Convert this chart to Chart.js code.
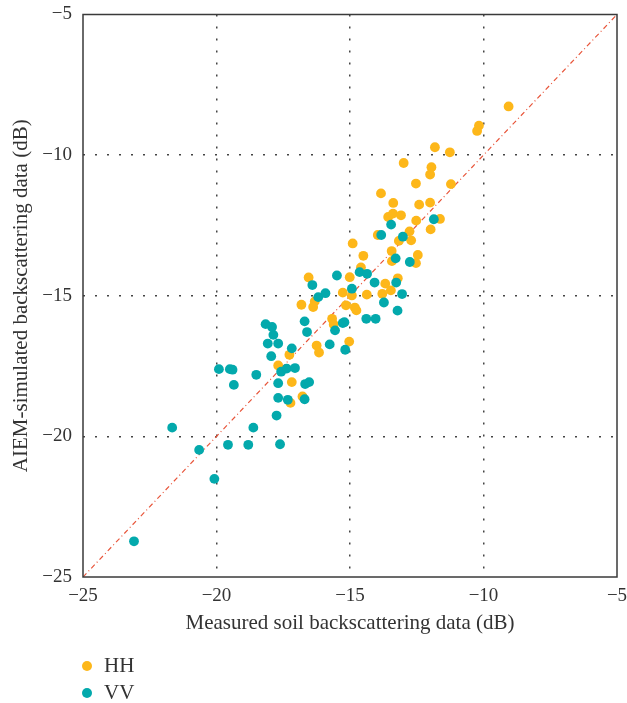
<!DOCTYPE html>
<html>
<head>
<meta charset="utf-8">
<script src="https://cdn.jsdelivr.net/npm/chart.js@4.4.1/dist/chart.umd.min.js"></script>
<style>
  html, body { margin: 0; padding: 0; background: #fff; }
  #wrap { position: relative; width: 627px; height: 703px; }
  #legend { position: absolute; left: 80px; top: 652px; font-family: "Liberation Serif", serif; font-size: 21px; color: #333; }
  #legend div { display: flex; align-items: center; height: 27px; }
  #legend span.dot { display: inline-block; width: 10px; height: 10px; border-radius: 50%; margin-right: 12px; margin-left: 2px; }
</style>
</head>
<body>
<div id="wrap">
  <canvas id="chart" width="627" height="703"></canvas>
  <div id="legend"></div>
</div>
<script>
// HH: measured (x) vs AIEM-simulated (y), dB
const hhPoints = [
  [-9.06, -8.27], [-10.17, -8.95], [-10.24, -9.14], [-11.82, -9.72], [-11.26, -9.90],
  [-12.99, -10.28], [-11.95, -10.43], [-12.00, -10.69], [-12.53, -11.01], [-11.22, -11.03],
  [-13.84, -11.36], [-13.38, -11.70], [-12.00, -11.69], [-12.41, -11.76], [-13.57, -12.20],
  [-13.39, -12.08], [-13.09, -12.14], [-12.52, -12.33], [-11.63, -12.27], [-11.98, -12.64],
  [-13.96, -12.84], [-12.77, -12.71], [-12.71, -13.03], [-13.17, -13.05], [-14.90, -13.14],
  [-13.44, -13.41], [-14.50, -13.58], [-12.46, -13.55], [-13.43, -13.77], [-12.53, -13.84],
  [-14.59, -13.99], [-15.01, -14.34], [-13.21, -14.38], [-13.68, -14.57], [-16.55, -14.35],
  [-15.27, -14.89], [-14.93, -14.99], [-14.37, -14.96], [-13.79, -14.93], [-13.47, -14.81],
  [-16.32, -15.20], [-16.82, -15.32], [-16.38, -15.40], [-15.15, -15.34], [-14.82, -15.42],
  [-14.76, -15.52], [-15.67, -15.82], [-15.61, -16.02], [-16.25, -16.77], [-16.16, -17.02],
  [-15.03, -16.63], [-17.27, -17.10], [-17.69, -17.48], [-17.18, -18.07], [-17.23, -18.81],
  [-16.78, -18.58]
];

const vvPoints = [
  [-11.86, -12.28], [-13.46, -12.47], [-13.83, -12.84], [-13.02, -12.90], [-13.29, -13.67],
  [-12.76, -13.80], [-14.64, -14.16], [-14.36, -14.22], [-15.49, -14.28], [-16.41, -14.62],
  [-14.08, -14.53], [-13.27, -14.53], [-15.92, -14.91], [-16.19, -15.05], [-14.93, -14.75],
  [-13.05, -14.94], [-13.73, -15.24], [-14.39, -15.82], [-14.04, -15.82], [-13.22, -15.53],
  [-16.70, -15.91], [-16.61, -16.29], [-15.27, -15.97], [-15.21, -15.94], [-15.56, -16.23],
  [-15.76, -16.73], [-15.18, -16.92], [-17.18, -16.87], [-17.69, -16.70], [-18.08, -16.70],
  [-17.87, -16.39], [-17.92, -16.11], [-18.16, -16.01], [-17.95, -17.15], [-18.51, -17.81],
  [-17.58, -17.70], [-17.37, -17.59], [-17.06, -17.57], [-17.69, -18.11], [-16.68, -18.14],
  [-16.53, -18.07], [-17.69, -18.63], [-17.33, -18.70], [-16.70, -18.68], [-17.75, -19.26],
  [-19.91, -17.61], [-19.50, -17.61], [-19.40, -17.63], [-19.35, -18.17], [-18.62, -19.69],
  [-17.62, -20.28], [-18.81, -20.30], [-19.57, -20.30], [-21.66, -19.69], [-20.65, -20.48],
  [-20.08, -21.51], [-23.09, -23.73]
];

// 1:1 reference line
const lineEnds = [-25, -5];

const axisMin = -25;
const axisMax = -5;
const axisStep = 5;

const seriesNames = ['HH', 'VV'];
const seriesColors = ['#FDB71A', '#03A9AC'];

const FONT = '"Liberation Serif", "Times New Roman", serif';
const TEXT = '#333333';

const toXY = arr => arr.map(p => ({ x: p[0], y: p[1] }));
const fmt = v => (v < 0 ? '\u2212' + Math.abs(v) : String(v));

// frame around the plot area
const framePlugin = {
  id: 'frame',
  afterDraw(chart) {
    const { ctx, chartArea: a } = chart;
    ctx.save();
    ctx.strokeStyle = '#3a3a3a';
    ctx.lineWidth = 1.5;
    ctx.strokeRect(a.left, a.top, a.right - a.left, a.bottom - a.top);
    ctx.restore();
  }
};

const gridColor = ctx => {
  const v = ctx.tick && ctx.tick.value;
  return (v === axisMin || v === axisMax) ? 'rgba(0,0,0,0)' : '#444444';
};

const chart = new Chart(document.getElementById('chart'), {
  type: 'scatter',
  data: {
    datasets: [
      {
        label: seriesNames[1],
        data: toXY(vvPoints),
        backgroundColor: seriesColors[1],
        borderWidth: 0,
        pointRadius: 4.9,
        order: 1
      },
      {
        label: seriesNames[0],
        data: toXY(hhPoints),
        backgroundColor: seriesColors[0],
        borderWidth: 0,
        pointRadius: 4.9,
        order: 2
      },
      {
        type: 'line',
        label: '1:1',
        data: lineEnds.map(v => ({ x: v, y: v })),
        borderColor: '#E8553A',
        borderWidth: 1.2,
        borderDash: [5, 3, 1, 3],
        pointRadius: 0,
        fill: false,
        order: 3
      }
    ]
  },
  options: {
    responsive: false,
    animation: false,
    layout: { padding: { top: 14.5, right: 10, bottom: 0, left: 0 } },
    plugins: {
      legend: { display: false },
      tooltip: { enabled: false }
    },
    scales: {
      x: {
        type: 'linear',
        min: axisMin,
        max: axisMax,
        afterFit: s => { s.height = 126; s.paddingLeft = 0; s.paddingRight = 0; },
        ticks: {
          stepSize: axisStep,
          padding: 8,
          color: TEXT,
          font: { family: FONT, size: 19 },
          callback: fmt
        },
        grid: { color: gridColor, lineWidth: 1.5, drawTicks: false },
        border: { display: false, dash: [2, 10] },
        title: {
          display: true,
          text: 'Measured soil backscattering data (dB)',
          color: TEXT,
          font: { family: FONT, size: 21 },
          padding: { top: 0, bottom: 67 }
        }
      },
      y: {
        type: 'linear',
        min: axisMin,
        max: axisMax,
        afterFit: s => { s.width = 83; s.paddingTop = 0; s.paddingBottom = 0; },
        ticks: {
          stepSize: axisStep,
          padding: 11,
          color: TEXT,
          font: { family: FONT, size: 19 },
          callback: fmt
        },
        grid: { color: gridColor, lineWidth: 1.5, drawTicks: false },
        border: { display: false, dash: [2, 10] },
        title: {
          display: true,
          text: 'AIEM-simulated backscattering data (dB)',
          color: TEXT,
          font: { family: FONT, size: 21 },
          padding: { top: 9, bottom: 0 }
        }
      }
    }
  },
  plugins: [framePlugin]
});

// legend as HTML, HH first then VV
const legendEl = document.getElementById('legend');
seriesNames.forEach((name, i) => {
  const row = document.createElement('div');
  row.innerHTML = `<span class="dot" style="background:${seriesColors[i]}"></span>${name}`;
  legendEl.appendChild(row);
});
</script>
</body>
</html>
